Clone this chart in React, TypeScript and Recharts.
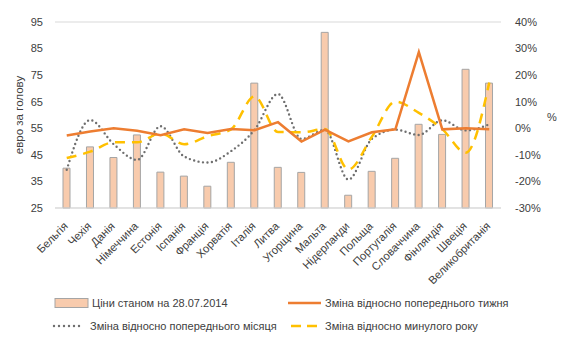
import {
  ComposedChart,
  Bar,
  Line,
  XAxis,
  YAxis,
  CartesianGrid,
  Label,
} from "recharts";

const countries = [
  "Бельгія",
  "Чехія",
  "Данія",
  "Німеччина",
  "Естонія",
  "Іспанія",
  "Франція",
  "Хорватія",
  "Італія",
  "Литва",
  "Угорщина",
  "Мальта",
  "Нідерланди",
  "Польща",
  "Португалія",
  "Словаччина",
  "Фінляндія",
  "Швеція",
  "Великобританія",
];

// euro per head, left axis
const prices = [40, 48, 44, 52.5, 38.5, 37, 33.2, 42.2, 72, 40.3, 38.4, 91.1, 29.8, 38.8, 43.7, 56.5, 52.7, 77.2, 72];

// % changes, right axis
const weekChange = [-2.7, -1.2, 0, -0.9, -2.6, -0.4, -1.8, -0.3, -0.7, 2.3, -5, -0.5, -4.9, -1.5, -0.4, 28.7, -0.4, 0, -0.4];
const monthChange = [-15.6, 3.1, -6, -11.9, 0.8, -10.6, -12.9, -8.6, -0.6, 12.9, -4, -0.6, -19.3, -4, -0.5, -2.5, 3, -0.8, 1.5];
const yearChange = [-11.2, -8.8, -5.3, -5.3, -1.9, -6, -3, -0.4, 12, -1.4, -1.5, -0.3, -15.5, -3.2, 10, 5.8, -0.3, -9.2, 17.2];

const leftTicks = [25, 35, 45, 55, 65, 75, 85, 95];
const rightTicks = [-30, -20, -10, 0, 10, 20, 30, 40];

const labels = {
  price: "Ціни станом на 28.07.2014",
  week: "Зміна відносно попереднього тижня",
  month: "Зміна відносно попереднього місяця",
  year: "Зміна відносно минулого року",
};

const FONT = "'Liberation Sans', Arial, sans-serif";
const TEXT = "#404040";

const data = countries.map((name, i) => ({
  name,
  price: prices[i],
  week: weekChange[i],
  month: monthChange[i],
  year: yearChange[i],
}));

const CountryTick = (props: any) => {
  const { x, y, payload } = props;
  const ax = x - 1;
  const ay = y + 8;
  return (
    <text
      x={ax}
      y={ay}
      transform={`rotate(-45, ${ax}, ${ay})`}
      textAnchor="end"
      dominantBaseline="central"
      fontSize={11.2}
      fontFamily={FONT}
      fill={TEXT}
    >
      {payload.value}
    </text>
  );
};

const Swatch = ({ kind }: { kind: string }) => {
  if (kind === "price")
    return (
      <svg width={36} height={12}>
        <rect x={1} y={1.5} width={33} height={9} fill="#F8CBAD" stroke="#A5A5A5" />
      </svg>
    );
  if (kind === "week")
    return (
      <svg width={36} height={12}>
        <line x1={1} x2={34} y1={6} y2={6} stroke="#ED7D31" strokeWidth={2.5} />
      </svg>
    );
  if (kind === "month")
    return (
      <svg width={36} height={12}>
        <line x1={2} x2={32} y1={6} y2={6} stroke="#6F6F6F" strokeWidth={2.4} strokeDasharray="0 5" strokeLinecap="round" />
      </svg>
    );
  return (
    <svg width={36} height={12}>
      <line x1={4} x2={34} y1={6} y2={6} stroke="#FFC000" strokeWidth={2.5} strokeDasharray="10 6" />
    </svg>
  );
};

const legendItems = [
  { kind: "price", left: 54, top: 297 },
  { kind: "week", left: 287, top: 297 },
  { kind: "month", left: 52, top: 320 },
  { kind: "year", left: 287, top: 320 },
];

const App = () => {
  return (
    <div style={{ position: "absolute", left: 0, top: 0, width: 563, height: 344, background: "#fff" }}>
      <ComposedChart
        width={563}
        height={344}
        data={data}
        margin={{ top: 22, right: 0, left: 0, bottom: 66 }}
        barSize={7}
      >
        <CartesianGrid vertical={false} stroke="#D9D9D9" />
        <XAxis
          dataKey="name"
          interval={0}
          height={70}
          tickLine={false}
          axisLine={{ stroke: "#D9D9D9" }}
          tick={<CountryTick />}
        />
        <YAxis
          yAxisId="left"
          width={55}
          domain={[25, 95]}
          ticks={leftTicks}
          axisLine={false}
          tickLine={false}
          tickMargin={6}
          tick={{ fill: TEXT, fontSize: 11, fontFamily: FONT }}
        >
          <Label
            content={({ viewBox }: any) => {
              const cx = viewBox.x + 19;
              const cy = viewBox.y + viewBox.height / 2;
              return (
                <text
                  x={cx}
                  y={cy}
                  transform={`rotate(-90, ${cx}, ${cy})`}
                  textAnchor="middle"
                  dominantBaseline="central"
                  fontSize={11.5}
                  fontFamily={FONT}
                  fill={TEXT}
                >
                  евро за голову
                </text>
              );
            }}
          />
        </YAxis>
        <YAxis
          yAxisId="right"
          orientation="right"
          width={62}
          domain={[-30, 40]}
          ticks={rightTicks}
          tickFormatter={(v: number) => `${v}%`}
          axisLine={false}
          tickLine={false}
          tickMargin={8}
          tick={{ fill: TEXT, fontSize: 11, fontFamily: FONT, textAnchor: "start" }}
        >
          <Label
            content={({ viewBox }: any) => (
              <text
                x={viewBox.x + 46}
                y={viewBox.y + viewBox.height / 2 + 2}
                dominantBaseline="central"
                fontSize={11}
                fontFamily={FONT}
                fill={TEXT}
              >
                %
              </text>
            )}
          />
        </YAxis>
        <Bar
          yAxisId="left"
          dataKey="price"
          fill="#F8CBAD"
          stroke="#A5A5A5"
          strokeWidth={1}
          isAnimationActive={false}
        />
        <Line
          yAxisId="right"
          type="monotone"
          dataKey="month"
          stroke="#6F6F6F"
          strokeWidth={2.4}
          strokeDasharray="0 4.5"
          strokeLinecap="round"
          dot={false}
          isAnimationActive={false}
        />
        <Line
          yAxisId="right"
          type="monotone"
          dataKey="year"
          stroke="#FFC000"
          strokeWidth={2.5}
          strokeDasharray="10 7"
          dot={false}
          isAnimationActive={false}
        />
        <Line
          yAxisId="right"
          type="linear"
          dataKey="week"
          stroke="#ED7D31"
          strokeWidth={2.5}
          dot={false}
          isAnimationActive={false}
        />
      </ComposedChart>
      {legendItems.map((item) => (
        <div
          key={item.kind}
          style={{
            position: "absolute",
            left: item.left,
            top: item.top,
            display: "flex",
            alignItems: "center",
            fontFamily: FONT,
            fontSize: 11,
            color: TEXT,
            whiteSpace: "nowrap",
          }}
        >
          <Swatch kind={item.kind} />
          <span style={{ marginLeft: 2 }}>{labels[item.kind as keyof typeof labels]}</span>
        </div>
      ))}
    </div>
  );
};

export default App;
